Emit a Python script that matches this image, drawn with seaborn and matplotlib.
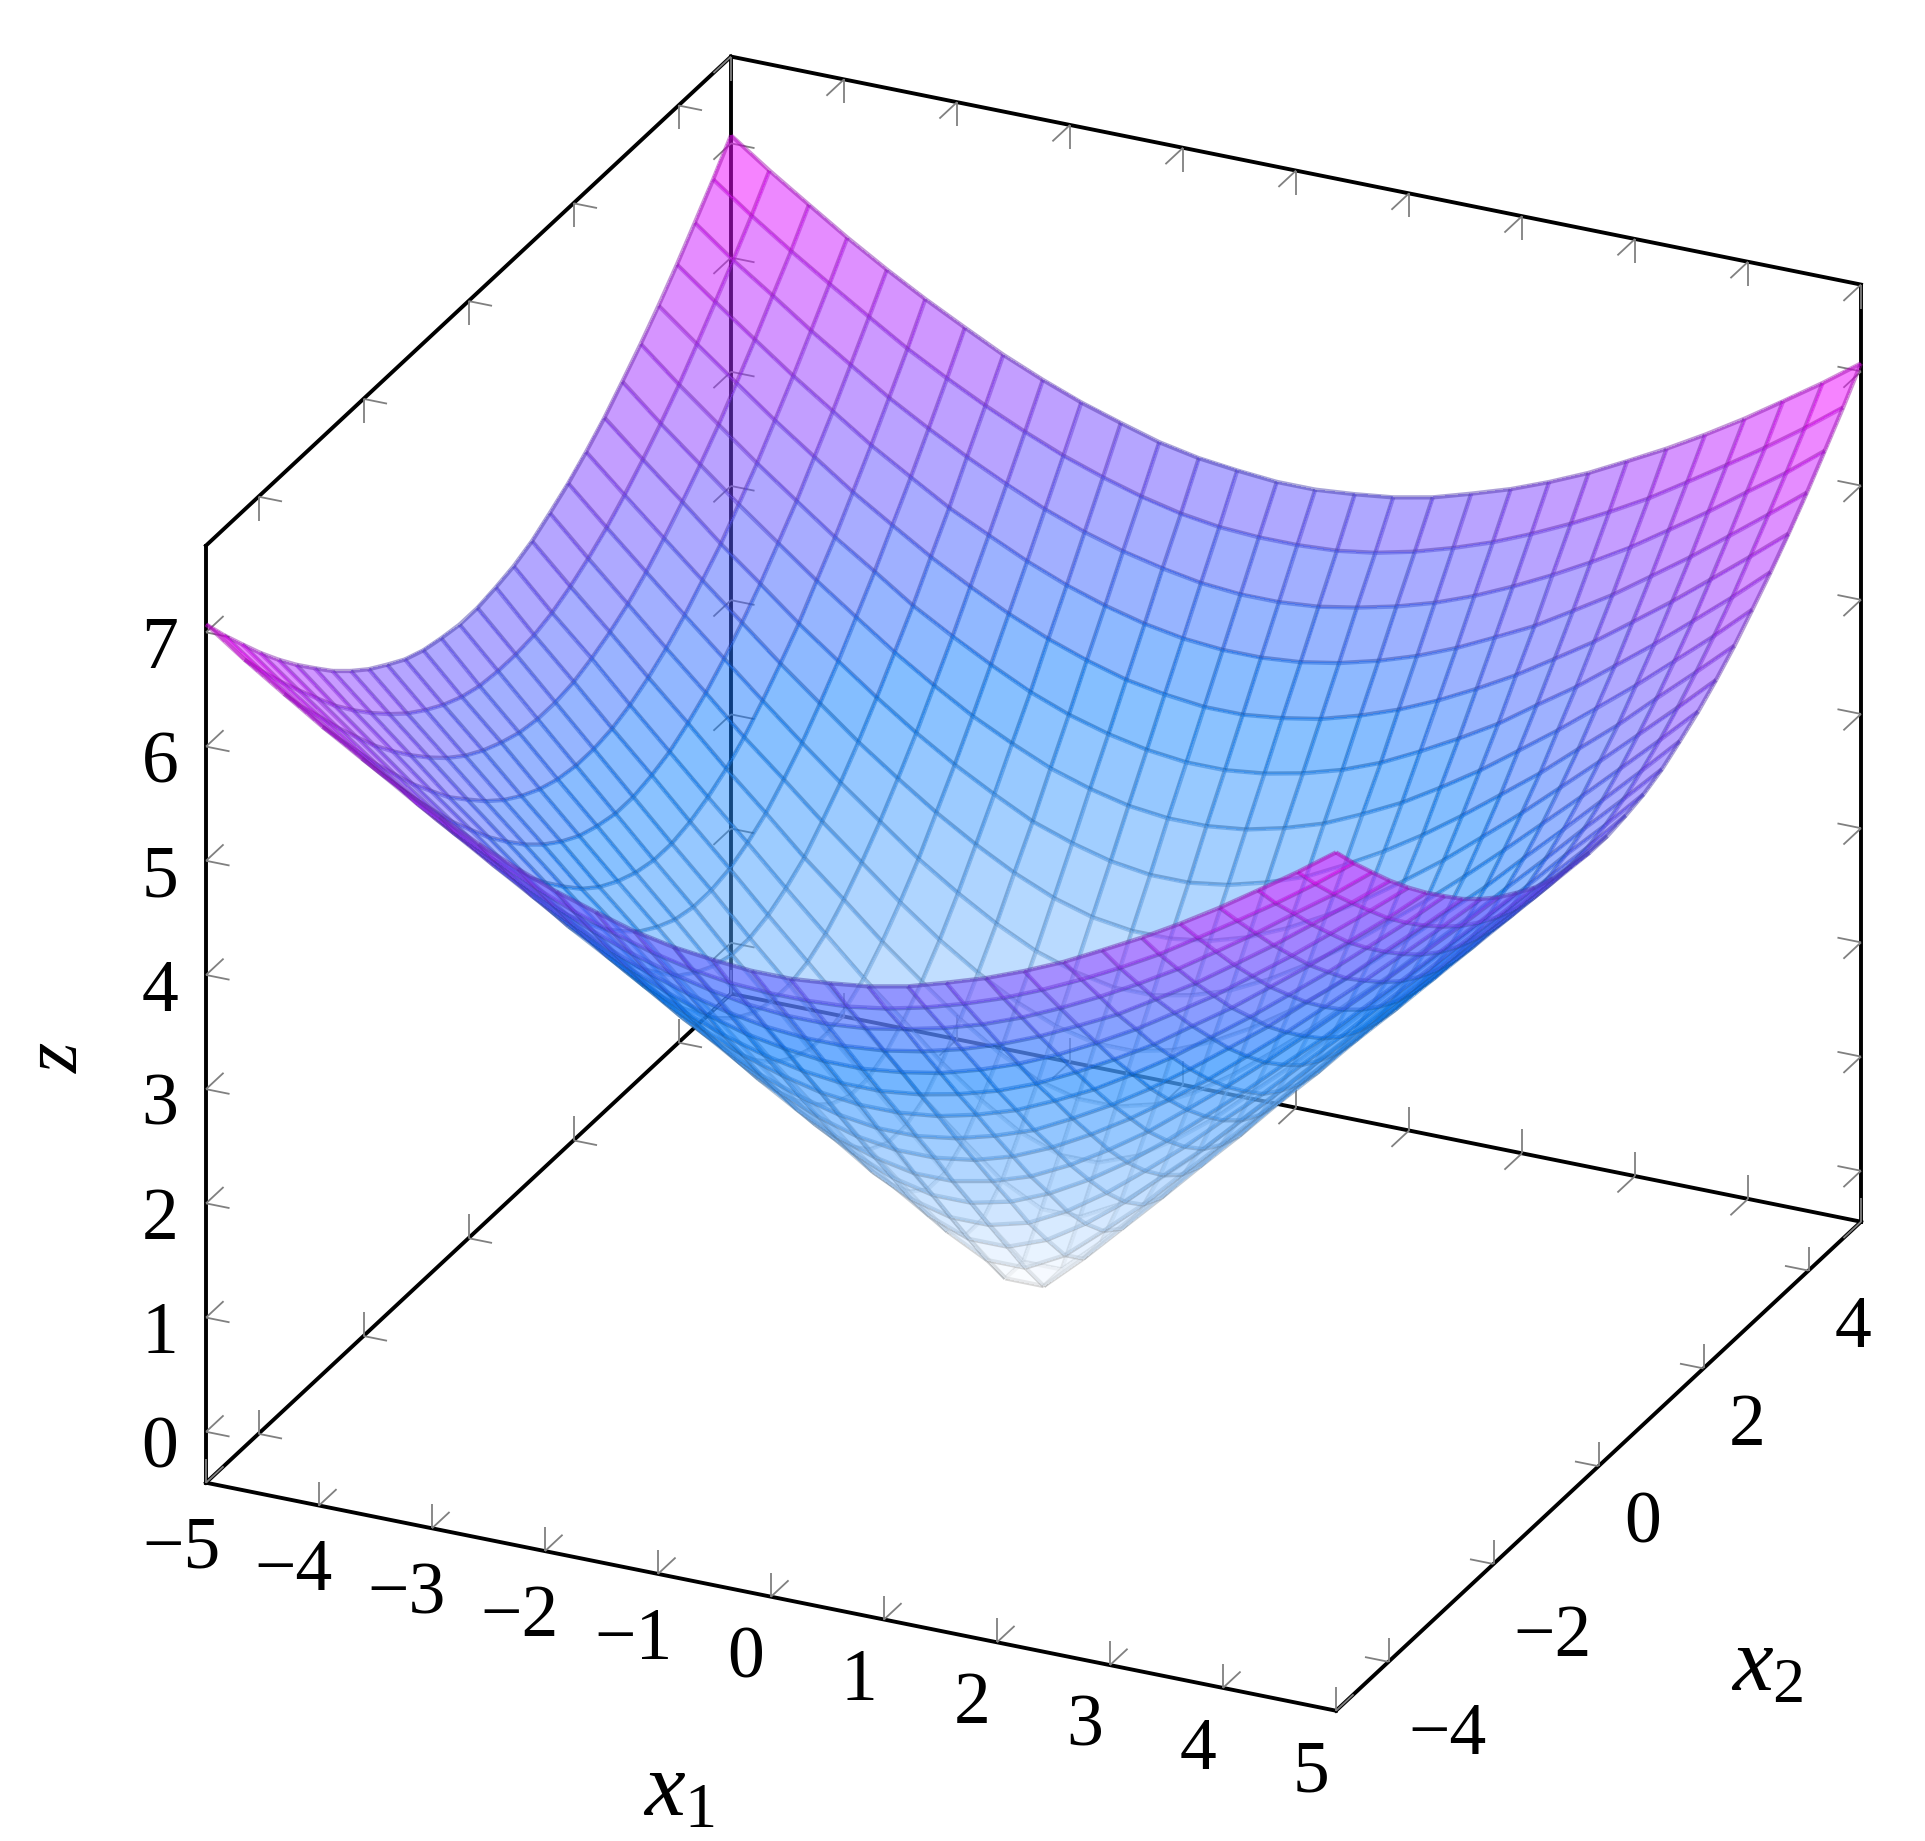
import numpy as np
import matplotlib
matplotlib.use("Agg")
import matplotlib.pyplot as plt
from matplotlib.colors import Normalize
import seaborn as sns

# ---- data ----
half_grid = [0.17, 0.52, 0.86, 1.21, 1.55, 1.90, 2.24, 2.59, 2.93, 3.28, 3.62, 3.97, 4.31, 4.66, 5.00]
z_quadrant = [
    [0.24, 0.55, 0.88, 1.22, 1.56, 1.90, 2.25, 2.59, 2.94, 3.28, 3.62, 3.97, 4.31, 4.66, 5.00],
    [0.55, 0.73, 1.01, 1.31, 1.64, 1.97, 2.30, 2.64, 2.98, 3.32, 3.66, 4.00, 4.34, 4.68, 5.03],
    [0.88, 1.01, 1.22, 1.48, 1.78, 2.08, 2.40, 2.73, 3.06, 3.39, 3.72, 4.06, 4.40, 4.73, 5.07],
    [1.22, 1.31, 1.48, 1.71, 1.97, 2.25, 2.55, 2.85, 3.17, 3.49, 3.82, 4.15, 4.48, 4.81, 5.14],
    [1.56, 1.64, 1.78, 1.97, 2.19, 2.45, 2.73, 3.02, 3.32, 3.62, 3.94, 4.26, 4.58, 4.91, 5.24],
    [1.90, 1.97, 2.08, 2.25, 2.45, 2.68, 2.94, 3.21, 3.49, 3.79, 4.09, 4.40, 4.71, 5.03, 5.35],
    [2.25, 2.30, 2.40, 2.55, 2.73, 2.94, 3.17, 3.42, 3.69, 3.97, 4.26, 4.56, 4.86, 5.17, 5.48],
    [2.59, 2.64, 2.73, 2.85, 3.02, 3.21, 3.42, 3.66, 3.91, 4.17, 4.45, 4.73, 5.03, 5.33, 5.63],
    [2.94, 2.98, 3.06, 3.17, 3.32, 3.49, 3.69, 3.91, 4.15, 4.40, 4.66, 4.93, 5.21, 5.50, 5.80],
    [3.28, 3.32, 3.39, 3.49, 3.62, 3.79, 3.97, 4.17, 4.40, 4.63, 4.88, 5.14, 5.41, 5.69, 5.98],
    [3.62, 3.66, 3.72, 3.82, 3.94, 4.09, 4.26, 4.45, 4.66, 4.88, 5.12, 5.37, 5.63, 5.90, 6.17],
    [3.97, 4.00, 4.06, 4.15, 4.26, 4.40, 4.56, 4.73, 4.93, 5.14, 5.37, 5.61, 5.86, 6.12, 6.38],
    [4.31, 4.34, 4.40, 4.48, 4.58, 4.71, 4.86, 5.03, 5.21, 5.41, 5.63, 5.86, 6.10, 6.34, 6.60],
    [4.66, 4.68, 4.73, 4.81, 4.91, 5.03, 5.17, 5.33, 5.50, 5.69, 5.90, 6.12, 6.34, 6.58, 6.83],
    [5.00, 5.03, 5.07, 5.14, 5.24, 5.35, 5.48, 5.63, 5.80, 5.98, 6.17, 6.38, 6.60, 6.83, 7.07],
]
x1_ticks = [-5, -4, -3, -2, -1, 0, 1, 2, 3, 4, 5]
x2_ticks = [-4, -2, 0, 2, 4]
z_ticks = [0, 1, 2, 3, 4, 5, 6, 7]
x1_lim = (-5, 5)
x2_lim = (-5, 5)
z_lim = (-0.446, 7.76)

# ---- style ----
sns.set_theme(style="white")
plt.rcParams["font.family"] = ["Liberation Serif", "DejaVu Serif"]
plt.rcParams["mathtext.fontset"] = "custom"
plt.rcParams["mathtext.rm"] = "Liberation Serif"
plt.rcParams["mathtext.it"] = "Liberation Serif:italic"
plt.rcParams["axes.unicode_minus"] = True

surface_cmap = sns.blend_palette(["#ffffff", "#0a80ff", "#ff00ff"], as_cmap=True)

W, H = 1925, 1841
fig = plt.figure(figsize=(W / 100, H / 100), dpi=100, facecolor="white")
ax = fig.add_axes([0, 0, 1, 1])
ax.set_xlim(0, W)
ax.set_ylim(H, 0)
ax.set_axis_off()
ax.set_autoscale_on(False)

# oblique box projection: axis unit vectors on the canvas
E1 = np.array([113.0, 22.8])
E2 = np.array([52.5, -48.9])
E3 = np.array([0.0, -114.2])
ORIGIN = np.array([206.0, 1482.7])


def proj(x1, x2, z):
    x1, x2, z = np.asarray(x1, float), np.asarray(x2, float), np.asarray(z, float)
    dx1, dx2, dz = x1 - x1_lim[0], x2 - x2_lim[0], z - z_lim[0]
    return (ORIGIN[0] + dx1 * E1[0] + dx2 * E2[0] + dz * E3[0],
            ORIGIN[1] + dx1 * E1[1] + dx2 * E2[1] + dz * E3[1])


def seg(a, b, color="black", lw=2.8, z=2):
    px, py = proj(*zip(a, b))
    ax.plot(px, py, color=color, lw=lw, zorder=z, solid_capstyle="projecting" if color == "black" else "butt")


BLACK = dict(color="black", lw=2.8, z=3)
a1, b1 = x1_lim
a2, b2 = x2_lim
a3, b3 = z_lim

TL = 24.0
len1, len2, len3 = TL / np.hypot(*E1), TL / np.hypot(*E2), TL / np.hypot(*E3)
GRAY = dict(color="#808080", lw=1.3, z=4)


def tick(p, d):
    q = (p[0] + d[0], p[1] + d[1], p[2] + d[2])
    seg(p, q, **GRAY)


# box edges
seg((a1, a2, a3), (b1, a2, a3), **BLACK)
seg((b1, a2, a3), (b1, b2, a3), **BLACK)
seg((a1, a2, a3), (a1, b2, a3), **BLACK)
seg((a1, b2, a3), (b1, b2, a3), **BLACK)
seg((a1, a2, a3), (a1, a2, b3), **BLACK)
seg((a1, b2, a3), (a1, b2, b3), **BLACK)
seg((b1, b2, a3), (b1, b2, b3), **BLACK)
seg((a1, a2, b3), (a1, b2, b3), **BLACK)
seg((a1, b2, b3), (b1, b2, b3), **BLACK)

# x1 ticks on three edges
for v in x1_ticks:
    tick((v, a2, a3), (0, 0, len3))
    tick((v, a2, a3), (0, len2, 0))
    tick((v, b2, a3), (0, 0, len3))
    tick((v, b2, a3), (0, -len2, 0))
    tick((v, b2, b3), (0, 0, -len3))
    tick((v, b2, b3), (0, -len2, 0))
# x2 ticks
for v in x2_ticks:
    tick((a1, v, a3), (0, 0, len3))
    tick((a1, v, a3), (len1, 0, 0))
    tick((b1, v, a3), (0, 0, len3))
    tick((b1, v, a3), (-len1, 0, 0))
    tick((a1, v, b3), (0, 0, -len3))
    tick((a1, v, b3), (len1, 0, 0))
# z ticks
for v in z_ticks:
    tick((a1, a2, v), (len1, 0, 0))
    tick((a1, a2, v), (0, len2, 0))
    tick((a1, b2, v), (len1, 0, 0))
    tick((a1, b2, v), (0, -len2, 0))
    tick((b1, b2, v), (-len1, 0, 0))
    tick((b1, b2, v), (0, -len2, 0))

# surface, drawn cell by cell from the back to the front
half = np.array(half_grid)
grid = np.concatenate([-half[::-1], half])
q = np.array(z_quadrant)
Z = np.block([[q[::-1, ::-1], q[::-1, :]], [q[:, ::-1], q]])
X1, X2 = np.meshgrid(grid, grid)
PX, PY = proj(X1, X2, Z)
norm = Normalize(vmin=float(Z.min()), vmax=float(Z.max()))
n = len(grid)

order = 10
for i in range(n - 2, -1, -1):       # x2 from back to front
    for j in range(n - 1):           # x1 towards the viewer
        cx, cy, cz = PX[i:i + 2, j:j + 2], PY[i:i + 2, j:j + 2], Z[i:i + 2, j:j + 2]
        ax.pcolormesh(cx, cy, np.array([[cz.mean()]]),
                      shading="flat", cmap=surface_cmap, norm=norm, alpha=0.5,
                      zorder=order, antialiased=False, edgecolors="none")
        rgb = np.array(surface_cmap(norm(cz.mean()))[:3]) * 0.66
        # each mesh edge is stroked once: back and left only on the outer rim
        edges = [([i, i], [j, j + 1]), ([i, i + 1], [j + 1, j + 1])]
        if i == n - 2:
            edges.append(([i + 1, i + 1], [j, j + 1]))
        if j == 0:
            edges.append(([i, i + 1], [j, j]))
        for ii, jj in edges:
            ax.plot(PX[ii, jj], PY[ii, jj], color=rgb, alpha=0.45, lw=3.1, zorder=order + 0.5,
                    solid_capstyle="butt")
        order += 1

# tick labels
TICK_FS = 53
LABEL_FS = 66


def lab(v):
    return f"\u2212{abs(v)}" if v < 0 else f"{v}"


for v in x1_ticks:
    px, py = proj(v, a2, a3)
    ax.text(px - 25, py + (67 if v < 0 else 63), lab(v), ha="center", va="center", fontsize=TICK_FS, color="black")
for v in x2_ticks:
    px, py = proj(b1, v, a3)
    off = (59, 74) if v < 0 else (44, 59)
    ax.text(px + off[0], py + off[1], lab(v), ha="center", va="center", fontsize=TICK_FS, color="black")
for v in z_ticks:
    px, py = proj(a1, a2, v)
    ax.text(px - 46, py + 18, lab(v), ha="center", va="center", fontsize=TICK_FS, color="black")

ax.text(679, 1793, r"$x_1$", ha="center", va="center", fontsize=LABEL_FS, color="black")
ax.text(1767, 1668, r"$x_2$", ha="center", va="center", fontsize=LABEL_FS, color="black")
ax.text(58, 1057, r"$z$", ha="center", va="center", rotation=90, fontsize=56, color="black")

fig.savefig("out.png", dpi=100, facecolor="white")
